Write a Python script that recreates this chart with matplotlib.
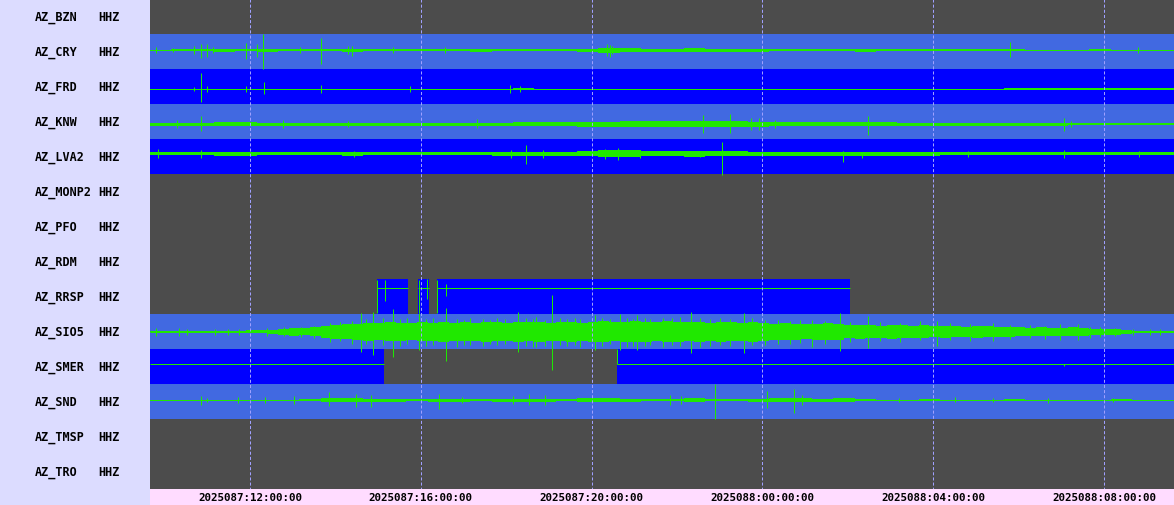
import numpy as np
import matplotlib
matplotlib.use("Agg")
import matplotlib.pyplot as plt

# ---- data -------------------------------------------------------------
stations = ["AZ_BZN", "AZ_CRY", "AZ_FRD", "AZ_KNW", "AZ_LVA2", "AZ_MONP2", "AZ_PFO",
            "AZ_RDM", "AZ_RRSP", "AZ_SIO5", "AZ_SMER", "AZ_SND", "AZ_TMSP", "AZ_TRO"]
channel = "HHZ"

# time window, hours counted from 2025087 00:00
t_start = 9.658
t_end = 33.64
tick_hours = [12, 16, 20, 24, 28, 32]
tick_labels = ["2025087:12:00:00", "2025087:16:00:00", "2025087:20:00:00",
               "2025088:00:00:00", "2025088:04:00:00", "2025088:08:00:00"]

# data coverage (start, end) in hours
full = [(t_start, t_end)]
coverage = {
    "AZ_CRY": full, "AZ_FRD": full, "AZ_KNW": full, "AZ_LVA2": full,
    "AZ_SIO5": full, "AZ_SND": full,
    "AZ_RRSP": [(14.97, 15.70), (15.93, 16.19), (16.39, 26.05)],
    "AZ_SMER": [(t_start, 15.14), (20.60, t_end)],
}

# noise envelope (half amplitude) per half hour bin
env_cry = [0.5, 1, 1, 1.5, 1, 1.5, 1, 1, 1, 1.5, 1, 1, 1, 1, 1, 1.5, 1, 1, 1, 1, 1.5, 2.5, 2, 1.5,
           1.5, 2, 1.5, 1.5, 1.5, 1, 1, 1, 1, 1.5, 1, 1, 1, 1, 1, 1, 1, 0.5, 0.5, 0.5, 1, 0.5, 0.5, 0.5]
env_frd = [0.5, 0.5, 0.5, 0.5, 0.5, 0.5, 0.5, 0.5, 0.5, 0.5, 0.5, 0.5, 0.5, 0.5, 0.5, 0.5, 0.5, 1, 0.5, 0.5,
           0.5, 0.5, 0.5, 0.5, 0.5, 0.5, 0.5, 0.5, 0.5, 0.5, 0.5, 0.5, 0.5, 0.5, 0.5, 0.5, 0.5, 0.5, 0.5, 0.5,
           1, 1, 1, 1, 1, 1, 1, 1]
env_knw = [1.5, 1.5, 1.5, 2, 2, 1.5, 1.5, 1.5, 1.5, 1.5, 1.5, 1.5, 1.5, 1.5, 1.5, 1.5, 1.5, 2, 2, 2, 2.5, 2.5, 3, 3,
           3, 3, 3, 3, 2.5, 2, 2, 2, 2, 2, 2, 1.5, 1.5, 1.5, 1.5, 1.5, 1.5, 1.5, 1.5, 1, 1, 1, 1, 1]
env_lva2 = [1.5, 1.5, 1.5, 2, 2, 1.5, 1.5, 1.5, 1.5, 2, 1.5, 1.5, 1.5, 1.5, 1.5, 1.5, 2, 2, 2, 2, 2.5, 3.5, 3.5, 2.5,
            2.5, 3, 2.5, 2.5, 2, 2, 2, 2, 2, 2, 2, 2, 2, 1.5, 1.5, 1.5, 1.5, 1.5, 1.5, 1.5, 1.5, 1.5, 1.5, 1.5]
env_snd = [0.5, 0.5, 0.5, 0.5, 0.5, 0.5, 0.5, 1, 2, 2, 1.5, 1.5, 1, 1.5, 1.5, 1, 1.5, 1.5, 1.5, 1, 2, 2, 1.5, 1,
           1, 2, 1, 1, 1.5, 2, 2, 1.5, 2, 1, 0.5, 0.5, 1, 0.5, 0.5, 0.5, 1, 0.5, 0.5, 0.5, 0.5, 1, 0.5, 0.5]
# SIO5 is much noisier, quarter hour bins
env_sio5 = [0.5, 0.5, 0.5, 0.5, 0.5, 0.5, 0.5, 1, 1, 1.5, 1.5, 2, 3, 4, 3.5, 4.5, 6, 7, 7.5, 8,
            9, 8.5, 9.5, 9, 8.5, 9.5, 9, 10, 9, 9.5, 9, 10, 9.5, 9, 10, 9.5, 10, 9, 9.5, 10,
            9, 10, 10.5, 9.5, 10, 10.5, 10, 9.5, 10.5, 10, 9.5, 10, 9, 10, 9.5, 9, 10, 9,
            8, 8.5, 8, 7.5, 8, 8.5, 8, 6.5, 7, 6.5, 6, 7, 6.5, 6, 6.5, 5.5, 6, 5.5, 5, 6, 5.5, 5,
            5, 4.5, 4, 4.5, 4, 4, 4.5, 4, 3, 3, 3, 2, 0.5, 0.5, 0.5, 0.5]

# spikes: (hour, up, down)
spk_cry = [(9.80, 3, 3), (10.20, 2, 2), (10.69, 4, 4), (10.85, 6, 8), (10.99, 6, 7), (11.13, 3, 3),
           (11.91, 7, 9), (12.16, 6, 7), (12.30, 16, 19), (13.17, 3, 3), (13.66, 12, 14), (14.30, 4, 4),
           (14.39, 4, 6), (15.35, 3, 3), (16.57, 3, 3), (20.36, 6, 6), (20.43, 5, 7), (20.48, 4, 4),
           (29.80, 8, 7), (32.80, 3, 3)]
spk_frd = [(10.69, 2, 2), (10.85, 16, 13), (10.99, 3, 3), (11.91, 3, 3), (12.33, 7, 5), (13.66, 4, 4),
           (15.75, 3, 3), (18.09, 4, 4), (18.32, 3, 3)]
spk_knw = [(10.29, 4, 4), (10.85, 8, 7), (12.77, 4, 4), (14.30, 3, 3), (17.32, 5, 4), (22.61, 9, 9),
           (23.24, 10, 9), (23.73, 6, 6), (23.92, 6, 6), (24.30, 4, 4), (26.47, 8, 11), (31.06, 6, 7),
           (31.23, 3, 3)]
spk_lva2 = [(9.85, 5, 4), (10.85, 4, 4), (14.44, 3, 3), (18.11, 4, 4), (18.46, 9, 10), (18.86, 4, 4),
            (20.31, 5, 5), (20.62, 6, 6), (21.13, 4, 4), (22.54, 3, 3), (23.05, 12, 21), (25.89, 3, 8),
            (26.33, 0, 4), (28.81, 3, 3), (31.06, 4, 4), (32.82, 3, 3)]
spk_rrsp = [(14.97, 8, 25), (15.16, 8, 13), (15.95, 8, 25), (16.14, 9, 11), (16.39, 8, 25), (16.59, 4, 8)]
spk_sio5 = [(9.80, 4, 4), (10.34, 4, 4), (10.52, 3, 3), (11.18, 3, 3), (11.48, 3, 3), (11.74, 3, 3),
            (12.40, 4, 4), (12.80, 5, 4), (13.20, 5, 5), (13.50, 6, 6),
            (13.87, 9, 10), (14.11, 10, 9), (14.39, 11, 12), (14.60, 19, 20), (14.72, 13, 12),
            (14.88, 20, 23), (15.11, 14, 13), (15.35, 23, 25), (15.51, 13, 14), (15.68, 14, 12),
            (15.96, 19, 18), (16.12, 13, 14), (16.29, 14, 13), (16.59, 24, 29), (16.85, 13, 15),
            (17.01, 12, 13), (17.15, 14, 13), (17.46, 13, 14), (17.62, 12, 12), (17.78, 14, 13),
            (17.97, 13, 12), (18.28, 20, 20), (18.46, 14, 14), (18.63, 13, 15), (18.70, 15, 15),
            (18.91, 12, 14), (19.07, 37, 38), (19.26, 14, 13), (19.42, 13, 14), (19.61, 14, 13),
            (19.73, 13, 15), (20.08, 17, 18), (20.24, 14, 14), (20.43, 13, 12), (20.67, 18, 18),
            (20.83, 14, 15), (20.97, 13, 14), (21.06, 17, 18), (21.25, 14, 14), (21.37, 13, 13),
            (21.67, 14, 15), (21.88, 14, 13), (22.07, 15, 14), (22.33, 20, 21), (22.54, 14, 15),
            (22.77, 13, 14), (23.01, 14, 13), (23.24, 13, 14), (23.57, 19, 21), (23.76, 14, 13),
            (24.06, 12, 13), (24.37, 12, 12), (24.65, 11, 12), (24.88, 12, 11), (25.16, 12, 15),
            (25.47, 11, 12), (25.82, 19, 19), (26.05, 10, 10), (26.47, 16, 16), (26.75, 10, 9),
            (27.22, 9, 10), (27.69, 11, 8), (28.09, 11, 14), (28.39, 9, 8), (28.86, 8, 9),
            (29.40, 9, 9), (29.80, 7, 7), (30.27, 7, 6), (30.62, 6, 7), (30.97, 8, 8),
            (31.39, 8, 8), (31.67, 5, 6), (31.91, 5, 5), (32.26, 4, 4), (32.68, 3, 3),
            (33.08, 3, 3), (33.31, 3, 3)]
spk_smer = [(20.60, 15, 0), (31.06, 0, 2)]
spk_snd = [(10.85, 4, 5), (10.99, 2, 2), (11.72, 3, 3), (12.35, 3, 3), (13.03, 4, 4), (13.85, 8, 6),
           (14.48, 6, 7), (14.83, 5, 7), (16.43, 6, 9), (16.96, 3, 3), (18.16, 4, 4), (18.53, 6, 5),
           (18.91, 5, 5), (21.84, 5, 5), (22.09, 4, 4), (22.89, 16, 19), (24.11, 9, 8), (24.74, 11, 13),
           (24.93, 5, 5), (27.20, 2, 2), (28.50, 3, 2), (29.40, 2, 2), (30.70, 2, 3), (32.20, 2, 2)]

noise = {"AZ_CRY": (env_cry, 0.5), "AZ_FRD": (env_frd, 0.5), "AZ_KNW": (env_knw, 0.5),
         "AZ_LVA2": (env_lva2, 0.5), "AZ_SND": (env_snd, 0.5), "AZ_SIO5": (env_sio5, 0.25)}
spikes = {"AZ_CRY": spk_cry, "AZ_FRD": spk_frd, "AZ_KNW": spk_knw, "AZ_LVA2": spk_lva2,
          "AZ_RRSP": spk_rrsp, "AZ_SIO5": spk_sio5, "AZ_SMER": spk_smer, "AZ_SND": spk_snd}

# ---- style -------------------------------------------------------------
ROW = 35
trace_shift = {"AZ_CRY": -1.5, "AZ_FRD": 2.5, "AZ_KNW": 2.5, "AZ_LVA2": -3,
               "AZ_RRSP": -8.5, "AZ_SIO5": 0, "AZ_SMER": -2.5, "AZ_SND": -1.5}
GRAY = "#4c4c4c"
ROYAL = "#4169e1"
BLUE = "#0000ff"
GREEN = "#20e800"
PANEL = "#dcdcff"
PINK = "#ffdcff"
GRID = "#a0a0ff"
LW = 0.72  # one pixel at 100 dpi
plt.rcParams["lines.scale_dashes"] = False
font = dict(family="DejaVu Sans Mono", fontweight="bold", color="black")

fig = plt.figure(figsize=(11.74, 5.06), dpi=100)
W, H = 1174, 506

# left label panel
lax = fig.add_axes([0, 0, 150 / W, 1])
lax.set_xlim(0, 150)
lax.set_ylim(H, 0)
lax.axis("off")
lax.add_patch(plt.Rectangle((0, 0), 150, H, color=PANEL, zorder=0))
for i, name in enumerate(stations):
    yc = ROW * i + ROW / 2
    lax.text(35, yc, name, va="center", ha="left", fontsize=8.5, **font)
    lax.text(98, yc, channel, va="center", ha="left", fontsize=8.5, **font)

# main trace area
ax = fig.add_axes([150 / W, 16 / H, 1024 / W, 490 / H])
ax.set_facecolor(GRAY)
ax.set_xlim(t_start, t_end)
ax.set_ylim(ROW * len(stations), 0)
ax.set_xticks([])
ax.set_yticks([])
for s in ax.spines.values():
    s.set_visible(False)

for i, name in enumerate(stations):
    if name not in coverage:
        continue
    segs = coverage[name]
    top = ROW * i
    col = ROYAL if i % 2 == 1 else BLUE
    ax.broken_barh([(a, b - a) for a, b in segs], (top, ROW), facecolors=col,
                   antialiased=False, zorder=1)
    base = top + ROW / 2 + trace_shift[name]
    for a, b in segs:
        ax.hlines(base, a, b, color=GREEN, lw=LW, zorder=3)
    if name in noise:
        env, step = noise[name]
        env = np.array(env, dtype=float)
        x = t_start + step * np.arange(len(env) + 1)
        e = np.append(env, env[-1])
        ax.fill_between(x, base - e, base + e, step="post", color=GREEN, lw=0,
                        antialiased=False, zorder=3)
    if name in spikes:
        sp = np.array(spikes[name], dtype=float)
        ax.vlines(sp[:, 0], base - sp[:, 1], base + sp[:, 2], color=GREEN, lw=LW, zorder=4)

ax.vlines(tick_hours, 0, ROW * len(stations), color=GRID, lw=LW,
          linestyles=[(0, (2.2, 1.5))], zorder=5)

# time axis strip
tax = fig.add_axes([150 / W, 0, 1024 / W, 16 / H])
tax.set_facecolor(PINK)
tax.set_xlim(t_start, t_end)
tax.set_ylim(0, 1)
tax.set_xticks([])
tax.set_yticks([])
for s in tax.spines.values():
    s.set_visible(False)
for h, lab in zip(tick_hours, tick_labels):
    tax.text(h, 0.5, lab, ha="center", va="center", fontsize=7.8, **font)

fig.savefig("out.png", dpi=100, facecolor=PANEL)
